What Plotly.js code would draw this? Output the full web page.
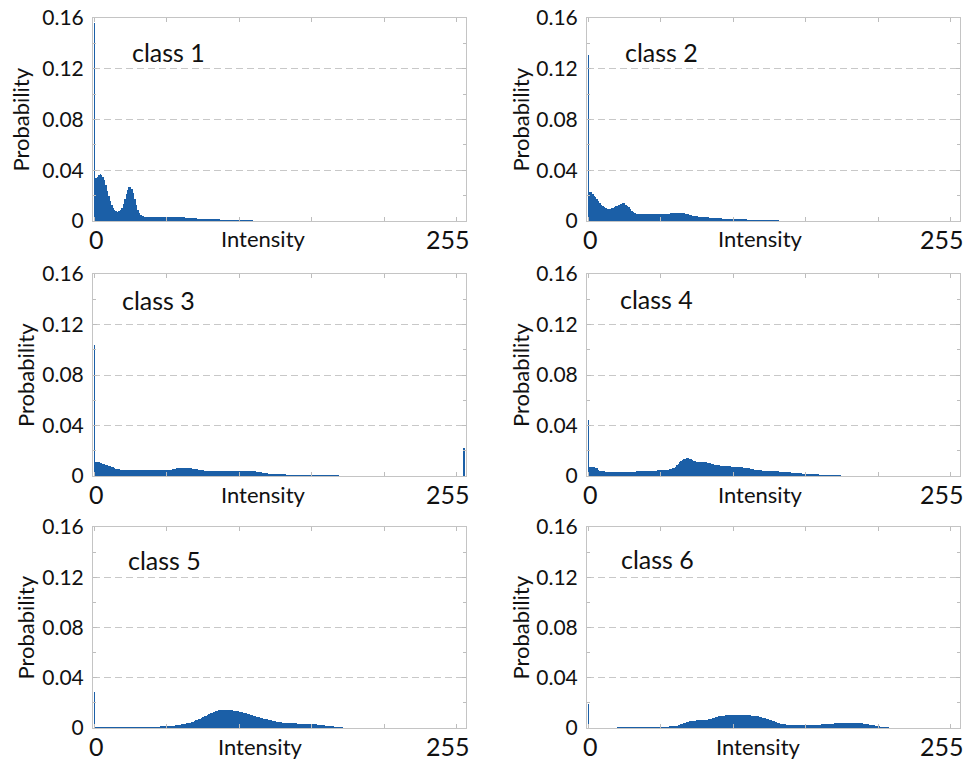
<!DOCTYPE html>
<html>
<head>
<meta charset="utf-8">
<script src="https://cdn.plot.ly/plotly-3.0.1.min.js"></script>
<style>html,body{margin:0;padding:0;background:#fff;}#chart{width:973px;height:768px;}</style>
</head>
<body>
<div id="chart"></div>
<script>
// ---------- DATA (probability values, in units of 1e-3) ----------
const classNames = ['class 1', 'class 2', 'class 3', 'class 4', 'class 5', 'class 6'];
const xTickValues = [0, 255];
const xTickLabels = ['0', '255'];
const xTitleText = 'Intensity';
const yTitleText = 'Probability';

const class1Permille = [
156, 34, 35, 36.5, 37, 36.5, 35, 32, 28, 24, 20, 16, 13, 10.5, 8.5, 7.5,
7.2, 7.5, 8.5, 10.5, 13.5, 17, 21, 24.5, 26.5, 27, 25.5, 22, 17.5, 13, 9, 6.5,
5, 4.2, 3.8, 3.5, 3.3, 3.2, 3.1, 3.0, 3.0, 2.9, 2.9, 2.9, 2.9, 2.9, 2.9, 2.9,
2.9, 2.9, 2.9, 3.0, 3.0, 3.1, 3.2, 3.3, 3.3, 3.3, 3.2, 3.1, 3.0, 2.9, 2.8, 2.7,
2.6, 2.5, 2.4, 2.3, 2.2, 2.1, 2.0, 1.9, 1.9, 1.8, 1.8, 1.7, 1.7, 1.6, 1.6, 1.5,
1.5, 1.4, 1.4, 1.3, 1.3, 1.2, 1.2, 1.1, 1.1, 1.0, 1.0, 0.9, 0.9, 0.9, 0.8, 0.8,
0.8, 0.7, 0.7, 0.7, 0.6, 0.6, 0.6, 0.5, 0.5, 0.5, 0.4, 0.4, 0.4, 0.4, 0.3, 0.3,
0.3, 0.3, 0.3, 0.2, 0.2, 0.2, 0.2, 0.2, 0.1, 0.1, 0.1, 0.1, 0.1, 0.1, 0.1, 0.1,
0.1, 0.1, 0.1, 0, 0, 0, 0, 0, 0, 0, 0, 0, 0, 0, 0, 0,
0, 0, 0, 0, 0, 0, 0, 0, 0, 0, 0, 0, 0, 0, 0, 0,
0, 0, 0, 0, 0, 0, 0, 0, 0, 0, 0, 0, 0, 0, 0, 0,
0, 0, 0, 0, 0, 0, 0, 0, 0, 0, 0, 0, 0, 0, 0, 0,
0, 0, 0, 0, 0, 0, 0, 0, 0, 0, 0, 0, 0, 0, 0, 0,
0, 0, 0, 0, 0, 0, 0, 0, 0, 0, 0, 0, 0, 0, 0, 0,
0, 0, 0, 0, 0, 0, 0, 0, 0, 0, 0, 0, 0, 0, 0, 0,
0, 0, 0, 0, 0, 0, 0, 0, 0, 0, 0, 0, 0, 0, 0, 0
];

const class2Permille = [
131, 23, 22.5, 21.5, 20, 19, 17.5, 16, 14.5, 13, 12, 11, 10.2, 9.6, 9.4, 9.6,
10, 10.5, 11, 11.5, 12, 12.6, 13.2, 13.7, 14, 13.8, 13, 12, 10.8, 9.4, 8.2, 7.2,
6.4, 5.8, 5.5, 5.3, 5.2, 5.2, 5.2, 5.2, 5.2, 5.2, 5.2, 5.2, 5.2, 5.2, 5.2, 5.2,
5.2, 5.2, 5.2, 5.2, 5.2, 5.3, 5.5, 5.7, 5.9, 6.1, 6.3, 6.4, 6.5, 6.5, 6.5, 6.5,
6.4, 6.3, 6.1, 5.8, 5.5, 5.2, 4.9, 4.6, 4.3, 4.1, 3.9, 3.7, 3.5, 3.4, 3.3, 3.2,
3.1, 3.0, 2.9, 2.8, 2.7, 2.6, 2.5, 2.4, 2.3, 2.2, 2.1, 2.0, 2.0, 1.9, 1.9, 1.8,
1.8, 1.7, 1.7, 1.6, 1.6, 1.5, 1.5, 1.4, 1.4, 1.3, 1.3, 1.3, 1.2, 1.2, 1.1, 1.1,
1.0, 1.0, 0.9, 0.9, 0.9, 0.8, 0.8, 0.8, 0.7, 0.7, 0.7, 0.6, 0.6, 0.6, 0.5, 0.5,
0.4, 0.4, 0.4, 0.4, 0.3, 0.3, 0.3, 0.3, 0.3, 0.3, 0.3, 0.2, 0.2, 0.2, 0.2, 0.2,
0.2, 0.2, 0.2, 0.2, 0.2, 0.2, 0.2, 0.2, 0.1, 0.1, 0.1, 0.1, 0.1, 0.1, 0.1, 0.1,
0.1, 0.1, 0.1, 0.1, 0.1, 0.1, 0.1, 0.1, 0.1, 0.1, 0.1, 0.1, 0.1, 0.1, 0.1, 0.1,
0.1, 0.1, 0.1, 0.1, 0.1, 0, 0, 0, 0, 0, 0, 0, 0, 0, 0, 0,
0, 0, 0, 0, 0, 0, 0, 0, 0, 0, 0, 0, 0, 0, 0, 0,
0, 0, 0, 0, 0, 0, 0, 0, 0, 0, 0, 0, 0, 0, 0, 0,
0, 0, 0, 0, 0, 0, 0, 0, 0, 0, 0, 0, 0, 0, 0, 0,
0, 0, 0, 0, 0, 0, 0, 0, 0, 0, 0, 0, 0, 0, 0, 0
];

const class3Permille = [
104, 11, 11, 10.8, 10.5, 10.2, 9.9, 9.5, 9.1, 8.6, 8.2, 7.7, 7.3, 6.8, 6.3, 5.9,
5.5, 5.2, 4.9, 4.7, 4.6, 4.5, 4.5, 4.4, 4.4, 4.4, 4.4, 4.4, 4.4, 4.4, 4.4, 4.4,
4.4, 4.4, 4.4, 4.4, 4.4, 4.4, 4.4, 4.4, 4.5, 4.5, 4.5, 4.5, 4.5, 4.5, 4.5, 4.5,
4.5, 4.5, 4.5, 4.6, 4.8, 5.0, 5.3, 5.6, 5.9, 6.1, 6.3, 6.4, 6.5, 6.5, 6.5, 6.4,
6.3, 6.2, 6.1, 6.0, 5.9, 5.7, 5.5, 5.3, 5.1, 4.9, 4.7, 4.5, 4.3, 4.2, 4.1, 4.0,
3.9, 3.9, 3.8, 3.8, 3.8, 3.8, 3.8, 3.8, 3.8, 3.8, 3.8, 3.8, 3.9, 3.9, 3.9, 3.9,
4.0, 4.0, 4.0, 4.0, 4.0, 4.0, 4.0, 4.0, 4.0, 3.9, 3.9, 3.8, 3.8, 3.7, 3.7, 3.6,
3.5, 3.3, 3.1, 2.9, 2.7, 2.5, 2.3, 2.1, 1.9, 1.8, 1.7, 1.6, 1.5, 1.4, 1.4, 1.3,
1.3, 1.3, 1.2, 1.2, 1.2, 1.1, 1.1, 1.1, 1.0, 1.0, 1.0, 1.0, 1.0, 0.9, 0.9, 0.9,
0.9, 0.9, 0.9, 0.8, 0.8, 0.8, 0.8, 0.8, 0.8, 0.8, 0.8, 0.7, 0.7, 0.7, 0.7, 0.7,
0.6, 0.6, 0.6, 0.6, 0.5, 0.5, 0.5, 0.5, 0.5, 0.4, 0.4, 0.4, 0.4, 0.4, 0.3, 0.3,
0.3, 0.3, 0.3, 0.3, 0.3, 0.2, 0.2, 0.2, 0.2, 0.2, 0.2, 0.2, 0.1, 0.1, 0.1, 0.1,
0.1, 0.1, 0.1, 0.1, 0.1, 0.1, 0.1, 0.1, 0, 0, 0, 0, 0, 0, 0, 0,
0, 0, 0, 0, 0, 0, 0, 0, 0, 0, 0, 0, 0, 0, 0, 0,
0, 0, 0, 0, 0, 0, 0, 0, 0, 0, 0, 0, 0, 0, 0, 0,
0, 0, 0, 0, 0, 0, 0, 0, 0, 0, 0, 0, 0, 0, 0, 22.5
];

const class4Permille = [
44, 7.5, 7.4, 7.2, 7.0, 6.7, 6.0, 5.0, 4.3, 3.9, 3.7, 3.6, 3.5, 3.4, 3.4, 3.4,
3.4, 3.4, 3.4, 3.4, 3.4, 3.4, 3.4, 3.4, 3.5, 3.5, 3.5, 3.5, 3.5, 3.5, 3.5, 3.5,
3.5, 3.6, 3.6, 3.7, 3.7, 3.8, 3.8, 3.9, 3.9, 4.0, 4.0, 4.1, 4.1, 4.2, 4.2, 4.3,
4.4, 4.5, 4.6, 4.7, 4.8, 4.9, 5.0, 5.1, 5.3, 5.6, 6.0, 6.6, 7.4, 8.4, 9.5, 10.7,
11.7, 12.6, 13.3, 13.8, 14.0, 14.0, 13.8, 13.4, 12.8, 12.2, 11.7, 11.4, 11.3, 11.3, 11.3, 11.2,
11.1, 10.9, 10.6, 10.3, 10.0, 9.7, 9.4, 9.1, 8.8, 8.6, 8.4, 8.3, 8.2, 8.1, 8.0, 7.9,
7.8, 7.7, 7.6, 7.5, 7.4, 7.3, 7.2, 7.1, 7.0, 6.9, 6.8, 6.7, 6.5, 6.4, 6.2, 6.0,
5.8, 5.5, 5.3, 5.1, 4.9, 4.7, 4.5, 4.4, 4.3, 4.3, 4.3, 4.2, 4.2, 4.2, 4.1, 4.0,
3.9, 3.8, 3.7, 3.6, 3.5, 3.4, 3.3, 3.2, 3.1, 3.0, 2.9, 2.8, 2.7, 2.6, 2.5, 2.4,
2.3, 2.2, 2.1, 2.0, 1.9, 1.8, 1.7, 1.6, 1.5, 1.5, 1.4, 1.4, 1.3, 1.3, 1.2, 1.2,
1.1, 1.1, 1.0, 1.0, 0.9, 0.9, 0.8, 0.8, 0.7, 0.7, 0.6, 0.6, 0.5, 0.5, 0.5, 0.4,
0.4, 0.4, 0.3, 0.3, 0.3, 0.2, 0.2, 0.2, 0.1, 0.1, 0.1, 0, 0, 0, 0, 0,
0, 0, 0, 0, 0, 0, 0, 0, 0, 0, 0, 0, 0, 0, 0, 0,
0, 0, 0, 0, 0, 0, 0, 0, 0, 0, 0, 0, 0, 0, 0, 0,
0, 0, 0, 0, 0, 0, 0, 0, 0, 0, 0, 0, 0, 0, 0, 0,
0, 0, 0, 0, 0, 0, 0, 0, 0, 0, 0, 0, 0, 0, 0, 0
];

const class5Permille = [
29, 0.6, 0.6, 0.6, 0.6, 0.6, 0.6, 0.6, 0.6, 0.6, 0.7, 0.7, 0.7, 0.7, 0.7, 0.7,
0.7, 0.7, 0.7, 0.7, 0.8, 0.8, 0.8, 0.8, 0.8, 0.8, 0.8, 0.8, 0.8, 0.8, 0.9, 0.9,
0.9, 0.9, 0.9, 0.9, 0.9, 0.9, 1.0, 1.0, 1.0, 1.0, 1.0, 1.1, 1.1, 1.1, 1.2, 1.2,
1.3, 1.3, 1.4, 1.5, 1.5, 1.6, 1.7, 1.8, 2.0, 2.2, 2.4, 2.6, 2.8, 3.0, 3.2, 3.5,
3.7, 4.0, 4.3, 4.7, 5.1, 5.5, 6.0, 6.5, 7.0, 7.5, 8.0, 8.6, 9.2, 9.8, 10.4, 11.0,
11.6, 12.1, 12.6, 13.1, 13.5, 13.9, 14.2, 14.5, 14.6, 14.7, 14.7, 14.6, 14.5, 14.4, 14.2, 14.0,
13.8, 13.6, 13.4, 13.2, 13.0, 12.8, 12.5, 12.2, 11.9, 11.6, 11.3, 11.0, 10.6, 10.2, 9.8, 9.4,
9.0, 8.7, 8.4, 8.1, 7.8, 7.5, 7.2, 6.9, 6.6, 6.3, 6.0, 5.7, 5.5, 5.3, 5.1, 4.9,
4.7, 4.5, 4.3, 4.2, 4.0, 3.9, 3.8, 3.8, 3.7, 3.7, 3.6, 3.6, 3.5, 3.5, 3.4, 3.4,
3.3, 3.3, 3.2, 3.2, 3.1, 3.0, 3.0, 2.9, 2.9, 2.8, 2.7, 2.6, 2.5, 2.3, 2.2, 2.0,
1.9, 1.8, 1.6, 1.5, 1.3, 1.2, 1.0, 0.9, 0.8, 0.7, 0.6, 0.5, 0.4, 0.4, 0.3, 0.3,
0.2, 0.2, 0.2, 0.1, 0.1, 0.1, 0.1, 0.1, 0, 0, 0, 0, 0, 0, 0, 0,
0, 0, 0, 0, 0, 0, 0, 0, 0, 0, 0, 0, 0, 0, 0, 0,
0, 0, 0, 0, 0, 0, 0, 0, 0, 0, 0, 0, 0, 0, 0, 0,
0, 0, 0, 0, 0, 0, 0, 0, 0, 0, 0, 0, 0, 0, 0, 0,
0, 0, 0, 0, 0, 0, 0, 0, 0, 0, 0, 0, 0, 0, 0, 0
];

const class6Permille = [
19, 0.4, 0.4, 0.4, 0.4, 0.4, 0.4, 0.4, 0.4, 0.4, 0.4, 0.4, 0.4, 0.4, 0.4, 0.4,
0.4, 0.4, 0.4, 0.4, 0.5, 0.5, 0.5, 0.5, 0.5, 0.5, 0.5, 0.5, 0.5, 0.5, 0.5, 0.5,
0.5, 0.5, 0.5, 0.5, 0.5, 0.5, 0.6, 0.6, 0.6, 0.6, 0.6, 0.6, 0.6, 0.6, 0.6, 0.6,
0.7, 0.7, 0.8, 0.8, 0.9, 0.9, 1.0, 1.1, 1.2, 1.3, 1.4, 1.5, 1.6, 1.8, 2.1, 2.5,
2.9, 3.3, 3.7, 4.1, 4.5, 4.9, 5.2, 5.5, 5.7, 5.8, 5.9, 6.0, 6.0, 6.0, 6.1, 6.1,
6.2, 6.3, 6.5, 6.8, 7.1, 7.4, 7.8, 8.2, 8.6, 8.9, 9.2, 9.4, 9.6, 9.8, 9.9, 10.0,
10.1, 10.2, 10.3, 10.4, 10.5, 10.5, 10.5, 10.5, 10.5, 10.5, 10.4, 10.4, 10.3, 10.2, 10.1, 10.0,
10.0, 9.9, 9.8, 9.6, 9.4, 9.2, 8.9, 8.6, 8.3, 8.0, 7.7, 7.3, 6.9, 6.5, 6.1, 5.7,
5.3, 4.9, 4.5, 4.1, 3.8, 3.5, 3.2, 3.0, 2.8, 2.6, 2.5, 2.4, 2.4, 2.4, 2.4, 2.4,
2.4, 2.4, 2.4, 2.4, 2.4, 2.4, 2.4, 2.5, 2.5, 2.5, 2.5, 2.5, 2.6, 2.6, 2.6, 2.7,
2.7, 2.8, 2.8, 2.9, 3.0, 3.1, 3.2, 3.3, 3.4, 3.5, 3.6, 3.7, 3.8, 3.9, 4.0, 4.1,
4.1, 4.2, 4.2, 4.2, 4.2, 4.2, 4.1, 4.1, 4.0, 3.9, 3.9, 3.8, 3.7, 3.6, 3.5, 3.3,
3.1, 2.9, 2.7, 2.5, 2.2, 2.0, 1.8, 1.6, 1.4, 1.2, 1.1, 0.9, 0.8, 0.7, 0.6, 0.5,
0.4, 0.4, 0.3, 0.3, 0.2, 0.2, 0.2, 0.1, 0.1, 0.1, 0.1, 0.1, 0, 0, 0, 0,
0, 0, 0, 0, 0, 0, 0, 0, 0, 0, 0, 0, 0, 0, 0, 0,
0, 0, 0, 0, 0, 0, 0, 0, 0, 0, 0, 0, 0, 0, 0, 0
];

// intensity levels 0..255 (the histogram categories)
const intensity = class1Permille.map((_, i) => i);

// ---------- CHART ----------
const allSeries = [class1Permille, class2Permille, class3Permille, class4Permille, class5Permille, class6Permille];
const barColor = '#1b5fa7';
const font = 'Lato, "Open Sans", sans-serif';
const W = 973, H = 768;
const colX = [[93 / W, 466 / W], [587 / W, 960 / W]];
const rowY = [[(H - 221) / H, (H - 18) / H], [(H - 476) / H, (H - 274) / H], [(H - 728) / H, (H - 527) / H]];
const classShift = [[37, 34], [36, 34], [27, 26], [31, 25], [33, 33], [32, 32]];
const yTitleX = [20, 520, 25, 520, 25, 520];
const xTitleCenter = [0.456, 0.464, 0.456, 0.466, 0.448, 0.46];

const traces = [];
const layout = {
  width: W, height: H,
  margin: {l: 0, r: 0, t: 0, b: 0},
  paper_bgcolor: '#fff', plot_bgcolor: '#fff',
  showlegend: false,
  bargap: 0,
  font: {family: font, color: '#111'},
  annotations: []
};

allSeries.forEach((vals, k) => {
  const n = k + 1;
  const sfx = n === 1 ? '' : String(n);
  traces.push({
    type: 'bar',
    x: intensity,
    y: vals.map(v => v / 1000),
    xaxis: 'x' + sfx, yaxis: 'y' + sfx,
    marker: {color: barColor, line: {width: 0}},
    hoverinfo: 'x+y'
  });
  const col = k % 2, row = Math.floor(k / 2);
  layout['xaxis' + sfx] = {
    domain: colX[col], anchor: 'y' + sfx,
    range: [-1, 256.5],
    tick0: 0, dtick: 50, ticks: 'inside', ticklen: 4, tickcolor: '#bdbdbd',
    showticklabels: false,
    showline: true, linecolor: '#c4c4c4', linewidth: 1, mirror: 'ticks',
    showgrid: false, zeroline: false, fixedrange: true
  };
  layout['yaxis' + sfx] = {
    domain: rowY[row], anchor: 'x' + sfx,
    range: [0, 0.16],
    tick0: 0, dtick: 0.04, ticks: 'inside', ticklen: 4, tickcolor: '#bdbdbd',
    tickfont: {size: 21, family: font, color: '#111'},
    ticklabelstandoff: 4,
    minor: {dtick: 0.02, ticks: 'inside', ticklen: 3, tickcolor: '#bdbdbd', showgrid: false},
    showline: true, linecolor: '#c4c4c4', linewidth: 1, mirror: 'ticks',
    showgrid: true, gridcolor: '#c8c8c8', griddash: '7px,4px', gridwidth: 1,
    zeroline: false, fixedrange: true
  };
  // class label
  layout.annotations.push({
    text: classNames[k], showarrow: false,
    xref: 'x' + sfx + ' domain', x: 0, xanchor: 'left', xshift: classShift[k][0],
    yref: 'y' + sfx + ' domain', y: 1, yanchor: 'middle', yshift: -classShift[k][1],
    font: {size: 25, family: font, color: '#111'}
  });
  // y title
  layout.annotations.push({
    text: yTitleText, showarrow: false, textangle: -90,
    xref: 'paper', x: yTitleX[k] / W, xanchor: 'center',
    yref: 'y' + sfx + ' domain', y: 0.5, yanchor: 'middle',
    font: {size: 22, family: font, color: '#111'}
  });
  // x tick labels
  xTickValues.forEach((tv, j) => {
    layout.annotations.push({
      text: xTickLabels[j], showarrow: false,
      xref: 'x' + sfx, x: tv, xanchor: j === 0 ? 'center' : 'right', xshift: j === 0 ? 2 : 8,
      yref: 'y' + sfx + ' domain', y: 0, yanchor: 'middle', yshift: -18,
      font: {size: 25, family: font, color: '#111'}
    });
  });
  // x title
  layout.annotations.push({
    text: xTitleText, showarrow: false,
    xref: 'x' + sfx + ' domain', x: xTitleCenter[k], xanchor: 'center',
    yref: 'y' + sfx + ' domain', y: 0, yanchor: 'middle', yshift: -18,
    font: {size: 22, family: font, color: '#111'}
  });
});

Plotly.newPlot('chart', traces, layout, {staticPlot: true, displayModeBar: false});
</script>
</body>
</html>
